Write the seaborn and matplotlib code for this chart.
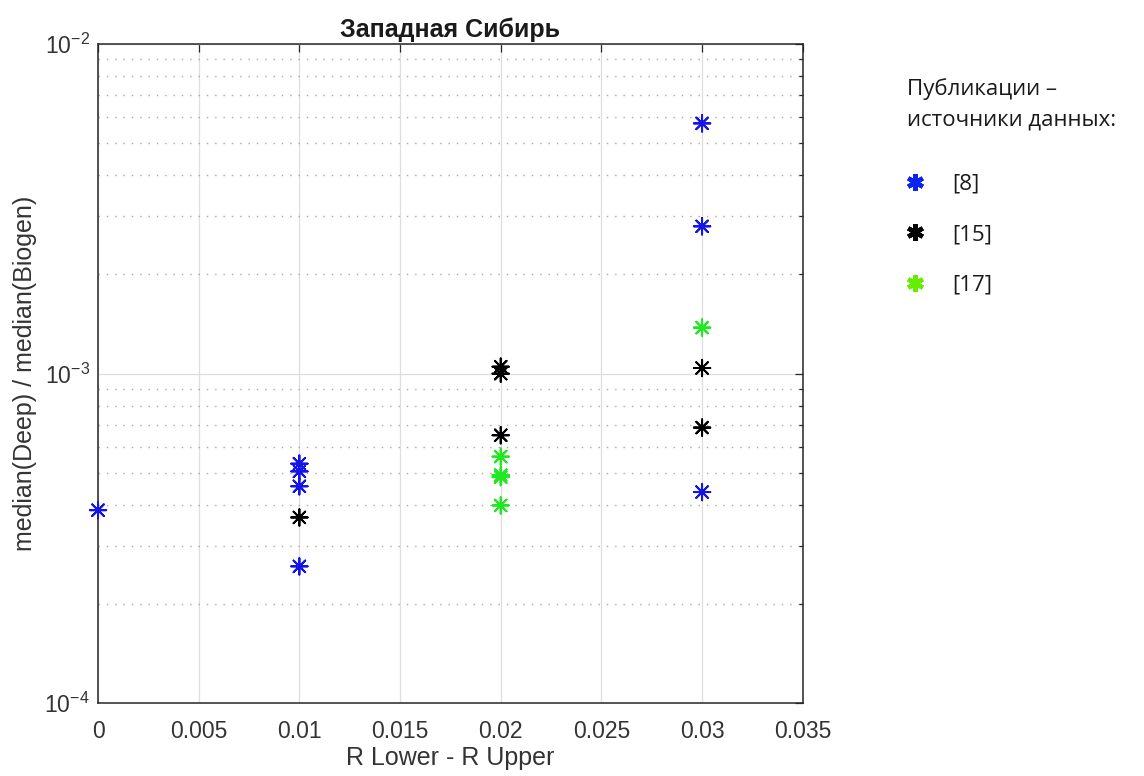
import matplotlib
matplotlib.use("Agg")
import matplotlib.pyplot as plt
from matplotlib.lines import Line2D
from matplotlib.ticker import LogLocator, NullFormatter
import numpy as np
import pandas as pd
import seaborn as sns

# --------------------------------------------------------------------------
# Data
# --------------------------------------------------------------------------
src8_x = [0.0, 0.01, 0.01, 0.01, 0.01, 0.03, 0.03, 0.03]
src8_y = [3.85e-4, 5.33e-4, 5.05e-4, 4.55e-4, 2.60e-4, 5.75e-3, 2.80e-3, 4.37e-4]

src15_x = [0.01, 0.02, 0.02, 0.02, 0.03, 0.03]
src15_y = [3.66e-4, 1.05e-3, 1.00e-3, 6.50e-4, 1.04e-3, 6.86e-4]

src17_x = [0.02, 0.02, 0.02, 0.02, 0.03]
src17_y = [5.60e-4, 4.92e-4, 4.85e-4, 3.98e-4, 1.38e-3]

sources = ["[8]", "[15]", "[17]"]
colors = ["#1414e6", "#000000", "#22e822"]
legend_colors = ["#0a24f0", "#000000", "#66ee00"]

x_ticks = [0, 0.005, 0.01, 0.015, 0.02, 0.025, 0.03, 0.035]
x_tick_labels = ["0", "0.005", "0.01", "0.015", "0.02", "0.025", "0.03", "0.035"]

df = pd.DataFrame({
    "x": src8_x + src15_x + src17_x,
    "y": src8_y + src15_y + src17_y,
    "src": [sources[0]] * len(src8_x) + [sources[1]] * len(src15_x)
           + [sources[2]] * len(src17_x),
})

# --------------------------------------------------------------------------
# Plot
# --------------------------------------------------------------------------
sns.set_style("white")
plt.rcParams["font.family"] = ["Liberation Sans", "DejaVu Sans"]

fig = plt.figure(figsize=(11.44, 7.76), dpi=100)
ax = fig.add_axes([0.0857, 0.094, 0.616, 0.849])

asterisk = (8, 2, 0)
sns.scatterplot(data=df, x="x", y="y", hue="src", hue_order=sources,
                palette=colors, marker=asterisk, s=140, linewidth=1.4,
                legend=False, ax=ax, zorder=3, clip_on=False)

ax.set_yscale("log")
ax.set_xlim(0, 0.035)
ax.set_ylim(1e-4, 1e-2)
ax.set_xticks(x_ticks)
ax.set_xticklabels(x_tick_labels)
ax.yaxis.set_minor_locator(LogLocator(base=10, subs=np.arange(2, 10)))
ax.yaxis.set_minor_formatter(NullFormatter())

# MATLAB-style grid: solid light major lines, dotted minor lines
ax.grid(True, which="major", color="#dedede", linestyle="-", linewidth=0.9)
ax.grid(True, which="minor", axis="y", color="#a8a8a8", linestyle=(0, (1, 5)),
        linewidth=1.0)
ax.set_axisbelow(True)

for sp in ax.spines.values():
    sp.set_color("#262626")
    sp.set_linewidth(1.1)

ax.tick_params(which="both", direction="in", top=True, right=True,
               colors="#262626", labelcolor="#333333", labelsize=16.5)
ax.tick_params(which="major", length=6, width=0.9)
ax.tick_params(which="minor", length=3, width=0.9)
ax.tick_params(axis="x", which="major", pad=12)
ax.tick_params(axis="y", which="major", pad=6)

ax.set_xlabel("R Lower - R Upper", fontsize=18, color="#333333", labelpad=2)
ax.set_ylabel("median(Deep) / median(Biogen)", fontsize=18, color="#333333",
              labelpad=5)
ax.set_title("Западная Сибирь", fontsize=18, fontweight="bold",
             color="#1a1a1a", pad=5)

# Legend on the right, as in the reference
side_font = ["Open Sans", "DejaVu Sans"]
fig.text(907 / 1144, 1 - 89 / 776, "Публикации –", family=side_font,
         fontsize=16, va="center", ha="left", color="#1a1a1a")
fig.text(907 / 1144, 1 - 120 / 776, "источники данных:", family=side_font,
         fontsize=16, va="center", ha="left", color="#1a1a1a")

handles = [Line2D([], [], linestyle="none", marker=(6, 2, 0), markersize=12,
                  markeredgewidth=3.2, color=c) for c in legend_colors]
leg = ax.legend(handles, sources, loc="upper left",
                bbox_to_anchor=(0.790, 0.776), bbox_transform=fig.transFigure,
                frameon=False, labelspacing=1.32, handlelength=1.0,
                handletextpad=1.2, borderpad=0, borderaxespad=0,
                prop={"family": side_font, "size": 16})
for t in leg.get_texts():
    t.set_color("#1a1a1a")

fig.savefig("out.png", dpi=100)
plt.close(fig)
